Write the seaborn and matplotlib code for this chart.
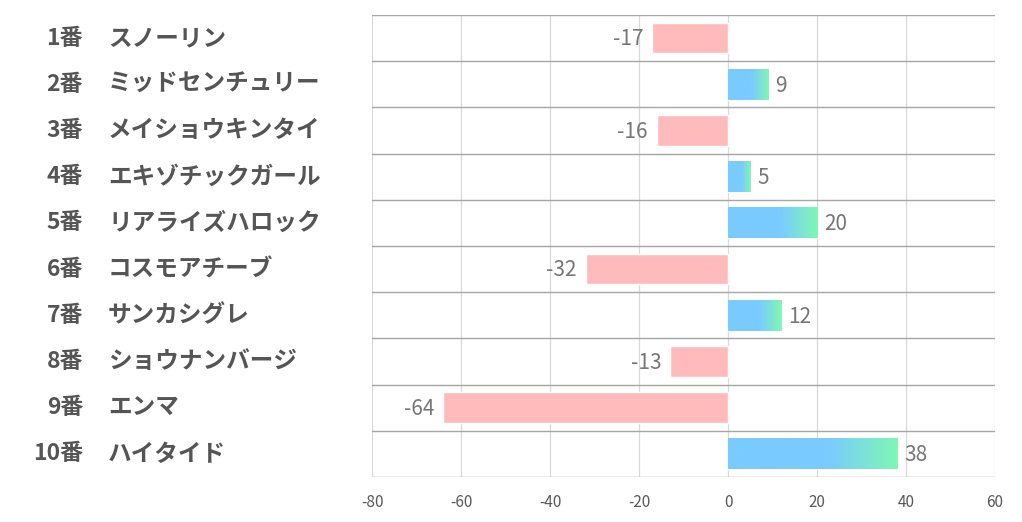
import numpy as np
import pandas as pd
import seaborn as sns
import matplotlib.pyplot as plt
from matplotlib.colors import LinearSegmentedColormap
from matplotlib.transforms import blended_transform_factory

numbers = ["1番", "2番", "3番", "4番", "5番", "6番", "7番", "8番", "9番", "10番"]
names = ["スノーリン", "ミッドセンチュリー", "メイショウキンタイ", "エキゾチックガール", "リアライズハロック",
         "コスモアチーブ", "サンカシグレ", "ショウナンバージ", "エンマ", "ハイタイド"]
values = [-17, 9, -16, 5, 20, -32, 12, -13, -64, 38]
xticks = [-80, -60, -40, -20, 0, 20, 40, 60]

POS_COLOR = "#7ACBFF"
END_COLOR = "#7FF7B4"
NEG_COLOR = "#FFBBBB"

sns.set_style("white")
plt.rcParams['font.family'] = ['Noto Sans CJK JP', 'DejaVu Sans']

df = pd.DataFrame({"horse": numbers, "value": values})
colors = [POS_COLOR if v > 0 else NEG_COLOR for v in values]

fig = plt.figure(figsize=(10.22, 5.22), dpi=100)
ax = fig.add_axes([0.364, 0.0862, 0.6096, 0.8851])
sns.barplot(data=df, x="value", y="horse", hue="horse", palette=colors, legend=False,
            width=0.66, saturation=1, ax=ax, orient="h", zorder=3)

ax.set_xticks(xticks)
ax.set_xticklabels([str(t) for t in xticks], fontsize=11, color="#595959")
ax.tick_params(axis="x", length=0, pad=12)
ax.set_yticks([])
ax.set_xlabel("")
ax.set_ylabel("")
for s in ax.spines.values():
    s.set_visible(False)

# vertical grid
for t in xticks:
    ax.axvline(t, color="#D9D9D9", lw=0.9, zorder=1)
# row separators
for i in range(len(values) + 1):
    ax.axhline(i - 0.5, color="#A6A6A6", lw=1.0, zorder=2)

# gradient on the positive bars (solid blue, fading to green over the last part)
grad = np.concatenate([np.zeros((1, 150)), np.linspace(0, 1, 106).reshape(1, -1)], axis=1)
cmap = LinearSegmentedColormap.from_list("g", [POS_COLOR, END_COLOR])
for p, v in zip(ax.patches, values):
    if v > 0:
        x0, y0, w, h = p.get_x(), p.get_y(), p.get_width(), p.get_height()
        ax.imshow(grad, extent=(x0, x0 + w, y0 + h, y0), cmap=cmap, aspect="auto",
                  zorder=4, interpolation="bicubic")

ax.set_xlim(-80, 60)
ax.set_ylim(len(values) - 0.5, -0.5)

# value labels
for i, v in enumerate(values):
    if v > 0:
        ax.text(v + 1.6, i + 0.03, str(v), ha="left", va="center", fontsize=15, color="#767676")
    else:
        ax.text(v - 2.0, i + 0.03, str(v), ha="right", va="center", fontsize=15, color="#767676")

# category labels
trans = blended_transform_factory(fig.transFigure, ax.transData)
for i, (n, nm) in enumerate(zip(numbers, names)):
    ax.text(83 / 1022, i, n, transform=trans, ha="right", va="center",
            fontsize=16.5, fontweight="bold", color="#555555")
    ax.text(108 / 1022, i, nm, transform=trans, ha="left", va="center",
            fontsize=17, fontweight="bold", color="#555555")

plt.savefig("out.png", dpi=100)
